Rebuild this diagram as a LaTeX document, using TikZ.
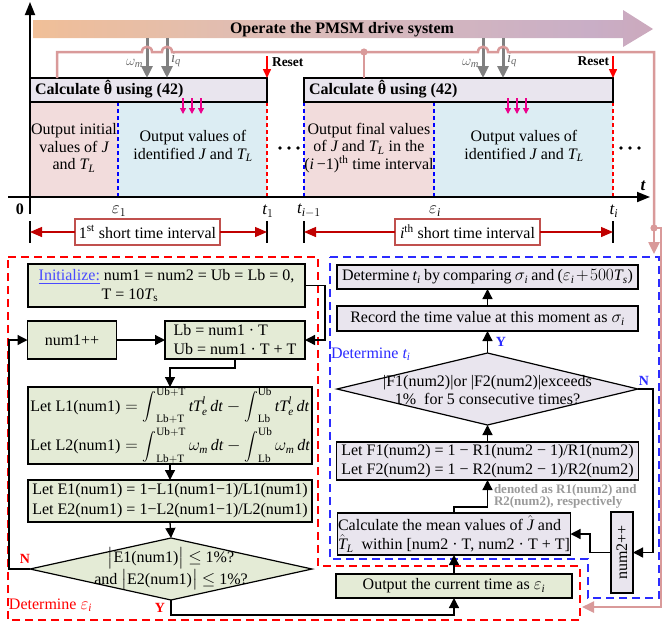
\documentclass[tikz,border=0pt]{standalone}
\usepackage{amsmath}
\usepackage{fontspec}
\setmainfont{Liberation Serif}
\usetikzlibrary{arrows.meta,shapes.geometric}
\definecolor{gfill}{HTML}{E4EBD6}
\definecolor{lfill}{HTML}{E9E5EE}
\definecolor{preg}{HTML}{F2DCDC}
\definecolor{breg}{HTML}{DCEDF3}
\definecolor{pinkc}{HTML}{D99A9A}
\definecolor{darkred}{HTML}{C00000}
\definecolor{ivred}{HTML}{C0504D}
\definecolor{ublue}{HTML}{4A4AFF}
\definecolor{dblue}{HTML}{2B2BFF}
\definecolor{notegray}{HTML}{9A9A9A}
\definecolor{sh1}{HTML}{7ECAD6}
\definecolor{sh2}{HTML}{F4BF91}
\definecolor{sh3}{HTML}{DDBDB8}
\definecolor{sh4}{HTML}{C9AEC6}
\definecolor{sh5}{HTML}{DA908C}
\pgfdeclarehorizontalshading{opshade}{100bp}{color(0bp)=(sh1); color(21bp)=(sh2); color(45bp)=(sh3); color(70bp)=(sh4); color(100bp)=(sh5)}
\newcommand\fs[2]{\fontsize{#1}{#2}\selectfont}
\newcommand\thhat{{\ooalign{θ\cr\hidewidth\raisebox{0.2em}{ˆ}\hidewidth\cr}}}
\newcommand\bint[2]{\mathop{\vcenter{\hbox{\scalebox{0.8}{$\displaystyle\int$}}}}\nolimits_{#1}^{#2}}
\begin{document}
\begin{tikzpicture}[x=1pt,y=-1pt,
  every node/.style={font=\fs{16}{19}, inner sep=0pt, outer sep=0pt},
  gbox/.style={draw=black, fill=gfill, line width=1.2pt},
  lbox/.style={draw=black, fill=lfill, line width=1.2pt},
  flow/.style={line width=1.3pt, -{Triangle[length=10pt,width=10pt]}},
  grayarr/.style={draw=gray, line width=3pt, -{Triangle[length=12pt,width=11pt]}},
  magarr/.style={draw=magenta, line width=1.2pt, -{Triangle[length=6pt,width=6pt]}},
  resetarr/.style={draw=red, line width=1.5pt, -{Triangle[length=9pt,width=8pt]}},
  pinkl/.style={draw=pinkc, line width=2.5pt},
  pinkarr/.style={draw=pinkc, line width=2.5pt, -{Triangle[length=12pt,width=11pt]}},
  axisl/.style={line width=1.8pt, -{Triangle[length=13pt,width=10pt]}},
  bdash/.style={draw=blue, line width=1.2pt, dash pattern=on 4pt off 3pt},
  rdashl/.style={draw=red, line width=1.2pt, dash pattern=on 4pt off 3pt},
  bigrdash/.style={draw=red, line width=1.5pt, dash pattern=on 8pt off 5pt},
  bigbdash/.style={draw=dblue, line width=1.5pt, dash pattern=on 8pt off 5pt},
  ivbox/.style={draw=ivred, line width=1.2pt, fill=white, minimum width=145pt, minimum height=26pt},
  ivarr/.style={draw=darkred, line width=1.3pt, -{Triangle[length=12pt,width=10pt]}},
  bar/.style={line width=1.6pt},
  tl/.style={align=center, font=\fs{16}{17.5}},
  yn/.style={font=\bfseries\fs{14}{16}},
  siglab/.style={font=\fs{15}{16}, text=gray!80!black}
]
\useasboundingbox (0,0) rectangle (663,622);

% ---------------- top: drive system arrow ----------------
\path[shading=opshade] (33,20) -- (623,20) -- (623,10) -- (653,29) -- (623,47) -- (623,38) -- (33,38) -- cycle;
\node[font=\bfseries\fs{16}{19}] (op) at (342,29.5) {Operate the PMSM drive system};

% ---------------- timeline regions ----------------
\fill[preg] (30,102) rectangle (118,197);
\fill[breg] (118,102) rectangle (267,197);
\fill[preg] (304,102) rectangle (434,197);
\fill[breg] (434,102) rectangle (613,197);
\draw[bdash] (30,102)--(30,197) (118,102)--(118,197) (304,102)--(304,197) (434,102)--(434,197);
\draw[rdashl] (267,102)--(267,197) (613,102)--(613,197);

\node[lbox, minimum width=237pt, minimum height=24pt] (cb1) at (148.5,90) {};
\node[anchor=west, font=\bfseries\fs{16}{19}] (cb1t) at (35,90.5) {Calculate \thhat\ using (42)};
\node[lbox, minimum width=309pt, minimum height=24pt] (cb2) at (458.5,90) {};
\node[anchor=west, font=\bfseries\fs{16}{19}] (cb2t) at (309,90.5) {Calculate \thhat\ using (42)};

\foreach \x in {183,192,201,508,517,526} \draw[magarr] (\x,98) -- (\x,114);

\node[tl] (r1) at (74,148) {Output initial\\values of $\mathit{J}$\\and $\mathit{T}_{\mathit{L}}$};
\node[tl] (r2) at (193,146) {Output values of\\identified $\mathit{J}$ and $\mathit{T}_{\mathit{L}}$};
\node[tl] (r3) at (369,148) {Output final values\\of $\mathit{J}$ and $\mathit{T}_{\mathit{L}}$ in the\\($\mathit{i}$\,−1)\textsuperscript{th} time interval};
\node[tl] (r4) at (524,146) {Output values of\\identified $\mathit{J}$ and $\mathit{T}_{\mathit{L}}$};

\foreach \x in {280,289,298,621,630,639} \fill (\x,148) circle (1.8);

% axes
\draw[axisl] (8,197) -- (650,197);
\draw[axisl] (30,214) -- (30,2);
\node[font=\bfseries\itshape\fs{17}{19}] (tlab) at (643,186) {t};
\node[font=\bfseries\fs{16}{19}] (l0) at (20,209) {0};
\node[font=\fs{17}{19}] (le1) at (119,211) {$\varepsilon_1$};
\node[font=\fs{17}{19}] (lt1) at (268,211) {$\mathit{t}_1$};
\node[font=\fs{17}{19}] (ltim) at (309,211) {$\mathit{t}_{\mathit{i}-1}$};
\node[font=\fs{17}{19}] (lei) at (435,211) {$\varepsilon_{\mathit{i}}$};
\node[font=\fs{17}{19}] (lti) at (614,211) {$\mathit{t}_{\mathit{i}}$};

% interval indicators
\draw[bar] (30,221)--(30,243) (267,221)--(267,243) (304,221)--(304,243) (613,221)--(613,243);
\coordinate (a1) at (30,232);
\coordinate (b1) at (267,232);
\coordinate (a2) at (304,232);
\coordinate (b2) at (613,232);
\node[ivbox] (iv1) at (147.5,232) {1\textsuperscript{st} short time interval};
\node[ivbox] (iv2) at (467.5,232) {$\mathit{i}$\textsuperscript{th} short time interval};
\draw[ivarr] (iv1.west) -- (a1);
\draw[ivarr] (iv1.east) -- (b1);
\draw[ivarr] (iv2.west) -- (a2);
\draw[ivarr] (iv2.east) -- (b2);

% gray signal arrows
\foreach \x in {147,167,483,503} \draw[grayarr] (\x,38) -- (\x,78);
\node[anchor=east, siglab] (wm1) at (143,63) {$\omega_{\mathit{m}}$};
\node[anchor=west, siglab] (iq1) at (171,60) {$\mathit{i}_{\mathit{q}}$};
\node[anchor=east, siglab] (wm2) at (479,63) {$\omega_{\mathit{m}}$};
\node[anchor=west, siglab] (iq2) at (507,60) {$\mathit{i}_{\mathit{q}}$};

% reset
\draw[resetarr] (267,56) -- (267,78);
\node[anchor=west, font=\bfseries\fs{13.5}{15}] (rs1) at (272,62) {Reset};
\draw[resetarr] (613,56) -- (613,78);
\node[anchor=east, font=\bfseries\fs{13.5}{15}] (rs2) at (609,61) {Reset};

% pink feedback line
\draw[pinkl] (57,78) -- (57,52) -- (142,52) .. controls (142,45) and (152,45) .. (152,52) -- (162,52) .. controls (162,45) and (172,45) .. (172,52) -- (478,52) .. controls (478,45) and (488,45) .. (488,52) -- (498,52) .. controls (498,45) and (508,45) .. (508,52) -- (654,52) -- (654,228);
\draw[pinkl] (364,52) -- (364,78);
\fill[pinkc] (364,52) circle (3.6);
\fill[pinkc] (654,228) circle (3.6);
\draw[pinkarr] (654,228) -- (654,254);
\draw[pinkarr] (654,228) -- (661,228) -- (661,607) -- (582,607);

% ---------------- dashed regions ----------------
\draw[bigrdash] (8,257) -- (318,257) -- (318,566) -- (580,566) -- (580,620) -- (8,620) -- cycle;
\draw[bigbdash] (330,257) -- (659,257) -- (659,598) -- (588,598) -- (588,559) -- (330,559) -- cycle;
\node[anchor=west, text=red] (detE) at (9,605) {Determine $\varepsilon_{\mathit{i}}$};
\node[anchor=west, text=dblue] (detT) at (331,354) {Determine $\mathit{t}_{\mathit{i}}$};

% ---------------- left flowchart ----------------
\node[gbox, minimum width=277pt, minimum height=43pt, align=left] (init) at (166.5,285.5)
  {\textcolor{ublue}{\underline{Initialize:}} num1 = num2 = Ub = Lb = 0,\\\hspace*{63pt}T = 10$\mathit{T}_{\mathrm{s}}$};
\node[gbox, minimum width=89pt, minimum height=38pt] (n1pp) at (72,340) {num1++};
\node[gbox, minimum width=140pt, minimum height=38pt, align=left] (lbub) at (235,340)
  {Lb = num1 · T\\Ub = num1 · T + T};
\node[gbox, minimum width=284pt, minimum height=77pt, align=left] (lbx) at (170,425.5) {%
$\text{Let L1(num1)} = \bint{\mathrm{Lb+T}}{\mathrm{Ub+T}}\mathit{tT}_{\mathit{e}}^{\mathit{l}}\,\mathit{dt}-\bint{\mathrm{Lb}}{\mathrm{Ub}}\mathit{tT}_{\mathit{e}}^{\mathit{l}}\,\mathit{dt}$\\[3pt]
$\text{Let L2(num1)} = \bint{\mathrm{Lb+T}}{\mathrm{Ub+T}}\omega_{\mathit{m}}\,\mathit{dt}-\bint{\mathrm{Lb}}{\mathrm{Ub}}\omega_{\mathit{m}}\,\mathit{dt}$};
\node[gbox, minimum width=284pt, minimum height=42pt, align=center, font=\fs{16}{20}] (ebx) at (170,501)
  {Let E1(num1) = 1−L1(num1−1)/L1(num1)\\Let E2(num1) = 1−L2(num1−1)/L2(num1)};
\node[gbox, diamond, minimum width=282pt, minimum height=62pt] (d1) at (171,569) {};
\node[align=center, font=\fs{16}{18}] (d1t) at (171,569) {$\big|$E1(num1)$\big|$ $\leq$ 1\%?\\and $\big|$E2(num1)$\big|$ $\leq$ 1\%?};
\node[gbox, minimum width=236pt, minimum height=24pt] (outb) at (454,586) {Output the current time as $\varepsilon_{\mathit{i}}$};

\draw[flow] (init.east) -- ++(20,0) |- (lbub.east);
\draw[flow] (n1pp.east) -- (lbub.west);
\draw[flow] (lbub.south) -- ++(0,9) -| (lbx.north);
\draw[flow] (lbx.south) -- (ebx.north);
\draw[flow] (ebx.south) -- (d1.north);
\draw[flow] (d1.west) -- (9,569) |- (n1pp.west);
\draw[flow] (d1.south) -- ++(0,15) -| (outb.south);
\node[yn, text=red] (nl) at (25,559) {N};
\node[yn, text=red] (yl) at (160,608) {Y};

% ---------------- right flowchart ----------------
\node[lbox, minimum width=301pt, minimum height=24pt] (dtb) at (487.5,277)
  {\makebox[291pt][s]{Determine $\mathit{t}_{\mathit{i}}$ by comparing $\sigma_{\mathit{i}}$ and ($\varepsilon_{\mathit{i}}+500\mathit{T}_{\mathit{s}}$)}};
\node[lbox, minimum width=301pt, minimum height=25pt] (rec) at (487.5,318.5)
  {Record the time value at this moment as $\sigma_{\mathit{i}}$};
\node[lbox, diamond, minimum width=301pt, minimum height=72pt] (d2) at (487.5,389) {};
\node[align=center, font=\fs{16}{17.5}] (d2t) at (487.5,390) {|F1(num2)|or |F2(num2)|exceeds\\1\%~ for 5 consecutive times?};
\node[lbox, minimum width=302pt, minimum height=38pt, align=center, font=\fs{16}{19}] (fbx) at (487.5,461)
  {Let F1(num2) = 1 − R1(num2 − 1)/R1(num2)\\Let F2(num2) = 1 − R2(num2 − 1)/R2(num2)};
\node[lbox, minimum width=233pt, minimum height=42pt, align=left, font=\fs{16}{18.5}] (calc) at (454,534)
  {Calculate the mean values of $\hat{\mathit{J}}$ and\\$\hat{\mathit{T}}_{\mathit{L}}$~ within [num2 · T, num2 · T + T]};
\node[lbox, minimum width=22pt, minimum height=81pt] (n2pp) at (622,552.5) {};
\node[rotate=90] (n2ppt) at (622,552.5) {num2++};
\node[anchor=north west, align=left, font=\bfseries\fs{13}{12.5}, text=notegray] (note) at (494,484)
  {denoted as R1(num2) and\\R2(num2), respectively};

\draw[flow] (outb.north) -- (calc.south);
\draw[flow] (calc.north) -- ++(0,-6) -| (fbx.south);
\draw[flow] (fbx.north) -- (d2.south);
\draw[flow] (d2.north) -- (rec.south);
\draw[flow] (rec.north) -- (dtb.south);
\draw[flow] (d2.east) -- (653,389) |- (n2pp.east);
\draw[flow] (n2pp.west) -- ++(-21,0) |- (calc.east);
\node[yn, text=dblue] (yr) at (501,342) {Y};
\node[yn, text=dblue] (nr) at (644,381) {N};
\end{tikzpicture}
\end{document}
